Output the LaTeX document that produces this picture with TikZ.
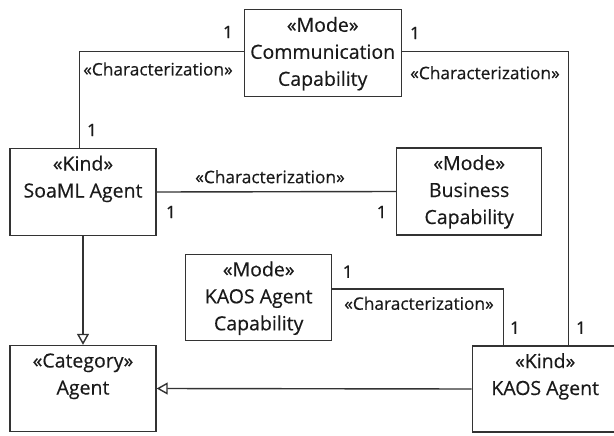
\documentclass[tikz,border=0pt]{standalone}
\usepackage{fontspec}
\setmainfont{Open Sans}[FakeBold=0.4]
\usetikzlibrary{arrows.meta,calc}
\definecolor{linec}{HTML}{333333}
\definecolor{textc}{HTML}{1A1A1A}
\tikzset{
  umlbox/.style={draw=linec, line width=1.4pt, minimum width=146pt, minimum height=87pt, inner sep=0pt, fill=white},
  boxtext/.style={anchor=north, inner sep=0pt, align=center, font=\fontsize{19.5}{27}\selectfont, text=textc},
  lbl/.style={inner sep=0pt, font=\fontsize{17.3}{22}\selectfont, text=textc},
  conn/.style={draw=linec, line width=1.4pt},
  gen/.style={conn, -{Triangle[open, length=11pt, width=12pt]}}
}
\begin{document}
\begin{tikzpicture}[x=1pt,y=-1pt]
\useasboundingbox (0,0) rectangle (614,436);
% boxes
\node[umlbox, minimum width=157pt] (comm) at (322.7,53.3) {};
\node[umlbox] (soaml) at (83,192) {};
\node[umlbox, minimum width=145pt] (business) at (469.2,191.5) {};
\node[umlbox, minimum height=86pt] (kaoscap) at (258.7,297.3) {};
\node[umlbox, minimum height=86pt] (agent) at (83,388.5) {};
\node[umlbox, minimum height=86pt] (kaos) at (545.2,389) {};
% box texts
\node[boxtext] (commtxt) at ([yshift=-3.6pt]comm.north) {\strut«Mode»\\Communication\\Capability};
\node[boxtext] (soamltxt) at ([yshift=-3.6pt]soaml.north) {\strut«Kind»\\SoaML Agent};
\node[boxtext] (businesstxt) at ([yshift=-3.6pt]business.north) {\strut«Mode»\\Business\\Capability};
\node[boxtext] (kaoscaptxt) at ([yshift=-3.6pt]kaoscap.north) {\strut«Mode»\\KAOS Agent\\Capability};
\node[boxtext] (agenttxt) at ([yshift=-3.6pt]agent.north) {\strut«Category»\\Agent};
\node[boxtext] (kaostxt) at ([yshift=-3.6pt]kaos.north) {\strut«Kind»\\KAOS Agent};
% connectors
\draw[conn] ([yshift=1.6pt]comm.west) -| ([xshift=-3.7pt]soaml.north);
\draw[conn] ([yshift=1.6pt]comm.east) -| ([xshift=23.3pt]kaos.north);
\draw[conn] (soaml.east) -- (business.west);
\draw[conn] ([yshift=8.3pt]kaoscap.east) -| ([xshift=-41.7pt]kaos.north);
\draw[gen] (soaml.south) -- (agent.north);
\draw[gen] (kaos.west) -- (agent.east);
% labels
\node[lbl] (m1) at (228,32) {1};
\node[lbl] (m2) at (415,33) {1};
\node[lbl] (m3) at (92,130) {1};
\node[lbl] (m4) at (171,212) {1};
\node[lbl] (m5) at (381.7,212) {1};
\node[lbl] (m6) at (347.7,271.7) {1};
\node[lbl] (m7) at (515,327.7) {1};
\node[lbl] (m8) at (581,327.7) {1};
\node[lbl] (c1) at (158,69) {«Characterization»};
\node[lbl] (c2) at (485,72.7) {«Characterization»};
\node[lbl] (c3) at (270,176.7) {«Characterization»};
\node[lbl] (c4) at (419,303.3) {«Characterization»};
\end{tikzpicture}
\end{document}
